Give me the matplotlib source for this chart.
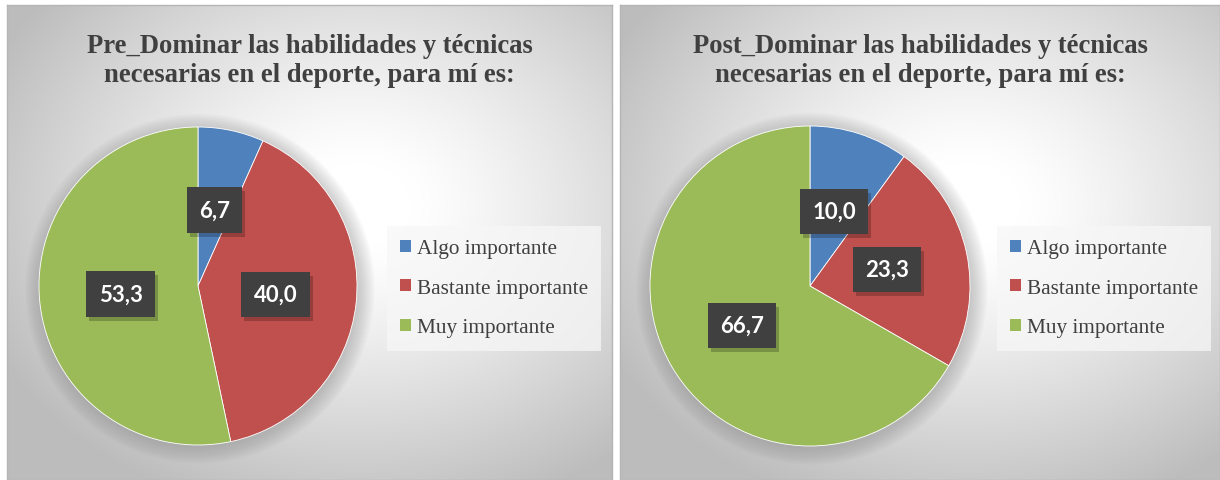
import numpy as np
import matplotlib
matplotlib.use("Agg")
import matplotlib.pyplot as plt
from matplotlib.patches import Patch, Rectangle

W, H = 1220, 481
categories = ["Algo importante", "Bastante importante", "Muy importante"]
pre_values = [6.7, 40.0, 53.3]
post_values = [10.0, 23.3, 66.7]
titles = ["Pre_Dominar las habilidades y técnicas\nnecesarias en el deporte, para mí es:",
          "Post_Dominar las habilidades y técnicas\nnecesarias en el deporte, para mí es:"]
colors = ["#4F81BD", "#C0504D", "#9BBB59"]

fig = plt.figure(figsize=(W / 100, H / 100), dpi=100)
fig.patch.set_facecolor("white")

def px(x0, y0, x1, y1):
    return [x0 / W, 1 - y1 / H, (x1 - x0) / W, (y1 - y0) / H]

panels = [
    dict(box=(7, 6, 612, 481), pie=(198, 287, 159), leg=(387, 227, 597, 348), values=pre_values),
    dict(box=(620, 6, 1220, 481), pie=(810, 287, 160), leg=(997, 227, 1210, 348), values=post_values),
]

label_texts = []
for i, p in enumerate(panels):
    x0, y0, x1, y1 = p["box"]
    bg = fig.add_axes(px(x0, y0, x1, y1))
    bg.set_xlim(0, 1); bg.set_ylim(0, 1)
    nx, ny = 300, 240
    xx, yy = np.meshgrid(np.linspace(0, 1, nx), np.linspace(0, 1, ny))
    d = np.sqrt(((xx - 0.58) / 0.75) ** 2 + ((yy - 0.58) / 0.75) ** 2)
    v = np.clip((d - 0.12) / 0.78, 0, 1)
    g = 1.0 - 0.26 * v ** 1.2
    img = np.dstack([g, g, g])
    bg.imshow(img, extent=(0, 1, 0, 1), origin="lower", aspect="auto", zorder=0)
    for s in bg.spines.values():
        s.set_color("#b5b5b5"); s.set_linewidth(1.0)
    bg.set_xticks([]); bg.set_yticks([])
    bg.text(0.5, 1 - (61 - y0) / (y1 - y0),
            titles[i], transform=bg.transAxes, ha="center", va="center",
            fontsize=19.2, fontweight="bold", family="Liberation Serif", color="#404040",
            linespacing=1.17)

    cx, cy, r = p["pie"]
    # soft shadow
    sh = fig.add_axes(px(cx - r - 20, cy - r - 20, cx + r + 20, cy + r + 20))
    sh.set_xlim(-1, 1); sh.set_ylim(-1, 1); sh.axis("off")
    rr = r / (r + 20)
    for k in range(12):
        c = plt.Circle((0.01, -0.015), rr + 0.008 * k, color="#808080", alpha=0.035, lw=0)
        sh.add_patch(c)

    ax = fig.add_axes(px(cx - r, cy - r, cx + r, cy + r))
    vals = p["values"]
    wedges, _ = ax.pie(vals, colors=colors, startangle=90, counterclock=False, radius=1,
                       wedgeprops=dict(linewidth=0.6, edgecolor="white"))
    ax.set_xlim(-1, 1); ax.set_ylim(-1, 1)
    ax.set_aspect("equal"); ax.axis("off")
    for w, val in zip(wedges, vals):
        ang = np.deg2rad((w.theta1 + w.theta2) / 2)
        dist = 0.49
        tx, ty = dist * np.cos(ang), dist * np.sin(ang)
        lab = f"{val:.1f}".replace(".", ",")
        t = ax.text(tx, ty, lab, ha="center", va="center", fontsize=16, fontweight="bold",
                    family="Lato", color="white", zorder=5,
                    bbox=dict(boxstyle="square,pad=0.55", fc="#404040", ec="none"))
        label_texts.append((ax, t))

    lx0, ly0, lx1, ly1 = p["leg"]
    lg = fig.add_axes(px(lx0, ly0, lx1, ly1))
    lg.axis("off")
    handles = [Patch(facecolor=c, edgecolor="none") for c in colors]
    leg = lg.legend(handles, categories, loc="upper left", bbox_to_anchor=(0.0, 1.0),
                    frameon=True, fancybox=False, framealpha=0.75, facecolor="#f7f7f7",
                    edgecolor="none", prop=dict(family="Liberation Serif", size=15.3),
                    labelcolor="#404040", handlelength=0.5, handleheight=0.5,
                    handletextpad=0.3, labelspacing=0.97, borderpad=0.62, borderaxespad=0.0)

# shadows behind label boxes
fig.canvas.draw()
renderer = fig.canvas.get_renderer()
for ax, t in label_texts:
    bb = t.get_bbox_patch().get_window_extent(renderer)
    rect = Rectangle((bb.x0 + 3, bb.y0 - 4), bb.width, bb.height, transform=None,
                     fc="black", ec="none", alpha=0.22, zorder=4)
    ax.add_artist(rect)

fig.savefig("out.png", dpi=100, facecolor="white")
